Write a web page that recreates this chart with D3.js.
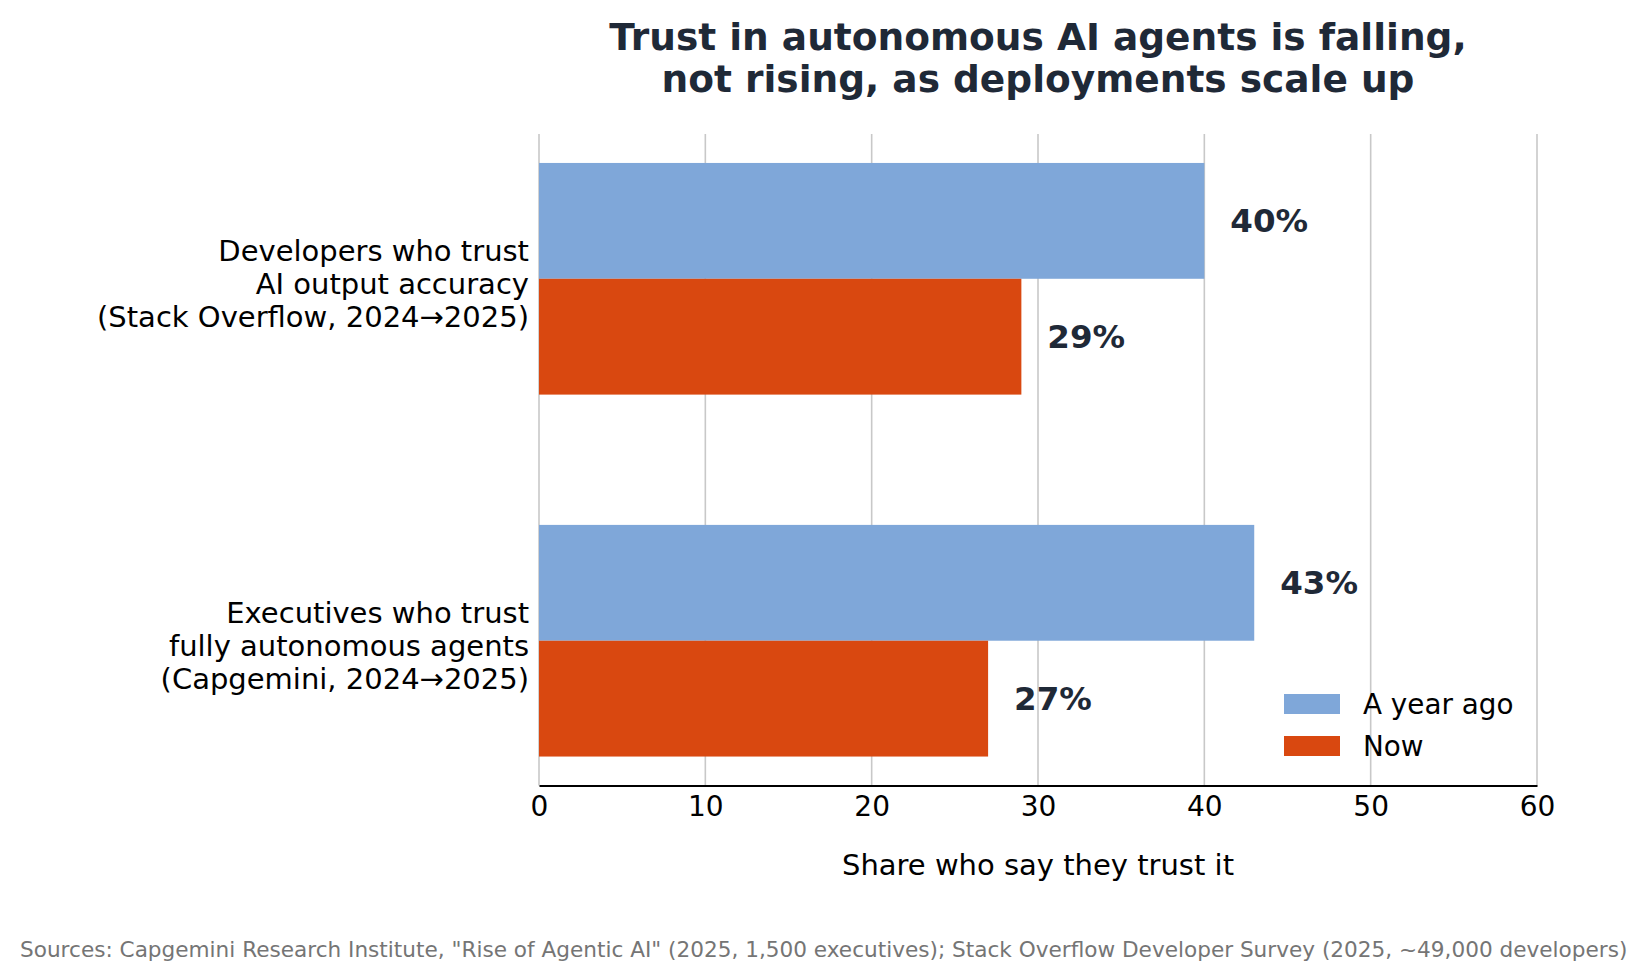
<!DOCTYPE html>
<html lang="en">
<head>
<meta charset="UTF-8">
<title>Trust in autonomous AI agents</title>
<style>
  body { margin: 0; background: #fff; overflow: hidden; }
  svg { display: block; font-family: "DejaVu Sans", sans-serif; }
</style>
</head>
<body>
<svg id="chart"></svg>
<script src="https://cdn.jsdelivr.net/npm/d3@7"></script>
<script>
// data
const categories = [
  ["Developers who trust", "AI output accuracy", "(Stack Overflow, 2024\u21922025)"],
  ["Executives who trust", "fully autonomous agents", "(Capgemini, 2024\u21922025)"]
];
const seriesNames = ["A year ago", "Now"];
const yearAgo = [40, 43];
const now = [29, 27];
const xTicks = [0, 10, 20, 30, 40, 50, 60];
const colors = ["#7fa7d9", "#d94810"];

const W = 1651, H = 979;
const margin = { left: 539, right: 1651 - 1537, top: 134, bottom: 979 - 785.5 };
const ink = "#1f2937";

const svg = d3.select("#chart").attr("width", W).attr("height", H);

const x = d3.scaleLinear().domain([0, 60]).range([margin.left, W - margin.right]);
// category index positions, matplotlib-like y range -0.4..1.4
const y = d3.scaleLinear().domain([-0.4, 1.4]).range([margin.top, H - margin.bottom]);
const barH = 0.32;

// gridlines
svg.append("g")
  .selectAll("line")
  .data(xTicks)
  .join("line")
  .attr("x1", d => x(d)).attr("x2", d => x(d))
  .attr("y1", y(-0.4)).attr("y2", y(1.4))
  .attr("stroke", "#c8c8c8").attr("stroke-width", 1.6);

// bars
const rows = categories.map((c, i) => ({ i, vals: [yearAgo[i], now[i]] }));
const grp = svg.append("g").selectAll("g").data(rows).join("g");

grp.selectAll("rect")
  .data(d => d.vals.map((v, s) => ({ i: d.i, s, v })))
  .join("rect")
  .attr("x", x(0))
  .attr("y", d => y(d.i - barH + d.s * barH))
  .attr("width", d => x(d.v) - x(0))
  .attr("height", d => y(barH) - y(0))
  .attr("fill", d => colors[d.s]);

grp.selectAll("text.val")
  .data(d => d.vals.map((v, s) => ({ i: d.i, s, v })))
  .join("text")
  .attr("class", "val")
  .attr("x", d => x(d.v) + 26)
  .attr("y", d => y(d.i - barH / 2 + d.s * barH))
  .attr("dy", "0.35em")
  .attr("font-size", 32.5).attr("font-weight", "bold").attr("fill", ink)
  .text(d => d.v + "%");

// x axis
const xAxis = svg.append("g")
  .attr("transform", `translate(0,${y(1.4)})`)
  .call(d3.axisBottom(x).tickValues(xTicks).tickSize(0).tickPadding(11));
xAxis.select(".domain").attr("stroke", "#000").attr("stroke-width", 2);
xAxis.selectAll("text").attr("font-size", 28).attr("font-family", "DejaVu Sans").attr("fill", "#000");

svg.append("text")
  .attr("x", x(30)).attr("y", 865).attr("dy", "0.35em")
  .attr("text-anchor", "middle").attr("font-size", 29).attr("fill", "#000")
  .text("Share who say they trust it");

// category labels
svg.append("g").selectAll("text")
  .data(categories)
  .join("text")
  .attr("text-anchor", "end")
  .attr("font-size", 29).attr("fill", "#000")
  .each(function (lines, i) {
    const t = d3.select(this);
    lines.forEach((ln, k) => {
      t.append("tspan")
        .attr("x", 529)
        .attr("y", y(i) + 5 + (k - 1) * 32.8)
        .attr("dy", "0.35em")
        .text(ln);
    });
  });

// title
svg.append("text")
  .attr("text-anchor", "middle").attr("font-size", 37.5).attr("font-weight", "bold").attr("fill", ink)
  .selectAll("tspan")
  .data(["Trust in autonomous AI agents is falling,", "not rising, as deployments scale up"])
  .join("tspan")
  .attr("x", 1038)
  .attr("y", (d, i) => 37 + i * 42)
  .attr("dy", "0.35em")
  .text(d => d);

// legend
const legend = svg.append("g").selectAll("g").data(seriesNames).join("g")
  .attr("transform", (d, i) => `translate(1284,${704 + i * 42})`);
legend.append("rect")
  .attr("x", 0).attr("y", -10).attr("width", 56).attr("height", 20)
  .attr("fill", (d, i) => colors[i]);
legend.append("text")
  .attr("x", 79).attr("dy", "0.35em")
  .attr("font-size", 27.8).attr("fill", "#000")
  .text(d => d);

// footer
svg.append("text")
  .attr("x", 20).attr("y", 949).attr("dy", "0.35em")
  .attr("font-size", 21.6).attr("fill", "#757575")
  .text("Sources: Capgemini Research Institute, \"Rise of Agentic AI\" (2025, 1,500 executives); Stack Overflow Developer Survey (2025, ~49,000 developers)");
</script>
</body>
</html>
